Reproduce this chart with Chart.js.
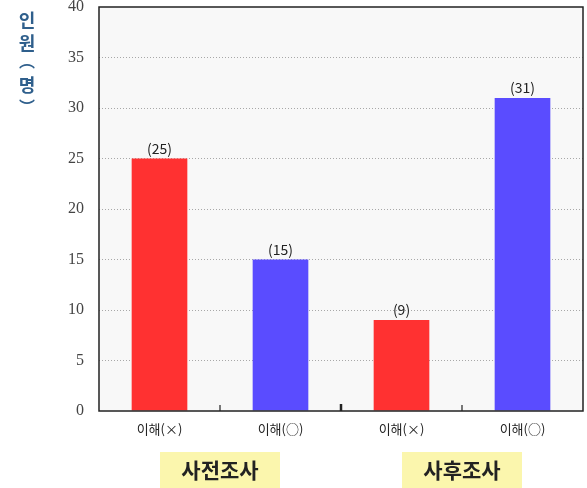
<!DOCTYPE html>
<html>
<head>
<meta charset="utf-8">
<script src="https://cdn.jsdelivr.net/npm/chart.js@4"></script>
<style>
  html, body { margin: 0; padding: 0; background: #ffffff; }
  canvas { display: block; }
</style>
</head>
<body>
<canvas id="chart" width="587" height="488"></canvas>
<script>
// Survey of understanding, before and after (number of people)
const categories = ['이해(×)', '이해(○)', '이해(×)', '이해(○)'];
const counts = [25, 15, 9, 31];
const groups = ['사전조사', '사후조사'];
const groupSpans = [[0, 1], [2, 3]];
const yTicks = [0, 5, 10, 15, 20, 25, 30, 35, 40];
const yTitle = '인원(명)';

const RED = '#ff3131';
const BLUE = '#5a4cff';
const barColors = [RED, BLUE, RED, BLUE];

const frame = {
  id: 'frame',
  beforeDraw(chart) {
    const { ctx, chartArea: a } = chart;
    ctx.save();
    ctx.fillStyle = '#f8f8f8';
    ctx.fillRect(a.left, a.top, a.right - a.left, a.bottom - a.top);
    ctx.restore();
  },
  afterDatasetsDraw(chart) {
    const { ctx, chartArea: a, scales } = chart;
    const x = scales.x;
    ctx.save();
    // outline of the plotting area
    ctx.strokeStyle = '#222';
    ctx.lineWidth = 1.5;
    ctx.strokeRect(a.left, a.top, a.right - a.left, a.bottom - a.top);
    // small inner ticks between categories
    for (let i = 0; i < categories.length - 1; i++) {
      const px = Math.round(x.getPixelForValue(i + 0.5));
      const major = (i === 1);
      ctx.lineWidth = major ? 2.5 : 1.2;
      ctx.beginPath();
      ctx.moveTo(px, a.bottom);
      ctx.lineTo(px, a.bottom - (major ? 7 : 6));
      ctx.stroke();
    }
    // value labels above bars
    const meta = chart.getDatasetMeta(0);
    ctx.fillStyle = '#222';
    ctx.font = '14px "Noto Sans CJK KR", "DejaVu Sans", sans-serif';
    ctx.textAlign = 'center';
    ctx.textBaseline = 'bottom';
    meta.data.forEach((bar, i) => {
      ctx.fillText('(' + counts[i] + ')', bar.x, bar.y - 3);
    });
    ctx.restore();
  },
  afterDraw(chart) {
    const { ctx, scales } = chart;
    const x = scales.x;
    ctx.save();
    // group captions with highlight boxes
    ctx.font = 'bold 21px "Noto Sans CJK KR", sans-serif';
    ctx.textAlign = 'center';
    ctx.textBaseline = 'middle';
    groups.forEach((g, i) => {
      const [s, e] = groupSpans[i];
      const cx = (x.getPixelForValue(s) + x.getPixelForValue(e)) / 2;
      const w = 120, h = 36;
      ctx.fillStyle = '#fbf6ad';
      ctx.fillRect(cx - w / 2, 452, w, h);
      ctx.fillStyle = '#222';
      ctx.fillText(g, cx, 470);
    });
    // vertical axis title, one character per line, using vertical bracket forms
    const vert = { '(': '︵', ')': '︶' };
    const chars = Array.from(yTitle);
    const ys = [20, 43, 61, 85, 107];
    ctx.fillStyle = '#2f5f8c';
    chars.forEach((c, i) => {
      const y = ys[i] !== undefined ? ys[i] : 20 + i * 20;
      ctx.font = vert[c]
        ? 'bold 16px "Noto Sans CJK KR", sans-serif'
        : 'bold 18px "Noto Sans CJK KR", sans-serif';
      ctx.fillText(vert[c] || c, 27, y);
    });
    ctx.restore();
  }
};

new Chart(document.getElementById('chart'), {
  type: 'bar',
  data: {
    labels: categories,
    datasets: [{
      data: counts,
      backgroundColor: barColors,
      borderWidth: 0,
      categoryPercentage: 1,
      barPercentage: 0.46
    }]
  },
  options: {
    responsive: false,
    animation: false,
    layout: { padding: { top: 7, right: 4, left: 0, bottom: 0 } },
    plugins: {
      legend: { display: false },
      tooltip: { enabled: false },
      title: { display: false }
    },
    scales: {
      x: {
        offset: true,
        grid: { display: false, drawTicks: false },
        border: { display: false },
        ticks: {
          color: '#222',
          padding: 10,
          font: { family: '"Noto Sans CJK KR", sans-serif', size: 13 }
        },
        afterFit(s) { s.height = 77; s.paddingLeft = 0; s.paddingRight = 0; }
      },
      y: {
        min: 0,
        max: 40,
        afterBuildTicks(s) { s.ticks = yTicks.map(v => ({ value: v })); },
        grid: {
          drawTicks: false,
          color: (c) => (c.tick && (c.tick.value === 0 || c.tick.value === 40)) ? 'rgba(0,0,0,0)' : '#a8a8a8',
          lineWidth: 1
        },
        border: { display: false, dash: [1, 2] },
        ticks: {
          color: '#444',
          padding: 15,
          font: { family: '"Liberation Serif", "DejaVu Serif", serif', size: 16 }
        },
        afterFit(s) { s.width = 99; s.paddingTop = 0; s.paddingBottom = 0; }
      }
    }
  },
  plugins: [frame]
});
</script>
</body>
</html>
